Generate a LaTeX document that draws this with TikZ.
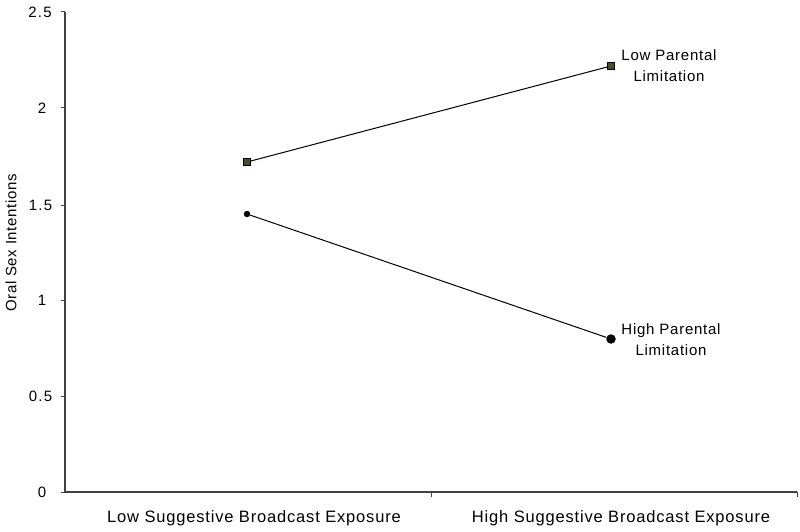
\documentclass[tikz,border=0pt]{standalone}
\usepackage{fontspec}
\setmainfont{Liberation Sans}
\begin{document}
\begin{tikzpicture}[x=1pt,y=-1pt,
  axis/.style={draw=black!75,line width=1.2pt},
  tick/.style={draw=black!75,line width=1pt},
  ticklab/.style={anchor=center,font=\fontsize{15}{17}\selectfont\addfontfeature{LetterSpace=8},inner sep=0pt},
  catlab/.style={font=\fontsize{16.5}{18}\selectfont\addfontfeature{LetterSpace=5},inner sep=0pt},
  serieslab/.style={font=\fontsize{15}{21}\selectfont\addfontfeature{LetterSpace=5},align=center,inner sep=0pt},
  dataline/.style={draw=black,line width=1pt},
  sqmark/.style={draw=black,fill=black!60!olive,minimum size=7pt,inner sep=0pt,line width=0.6pt},
  dotmark/.style={circle,fill=black,inner sep=0pt}]
\useasboundingbox (0,0) rectangle (800,532);
% axes
\coordinate (o) at (65,492);
\coordinate (ytop) at (65,12);
\coordinate (xend) at (797,492);
\draw[axis] (ytop) -- (o) -- (xend);
% y ticks
\foreach \v/\y/\x in {0/492/42,0.5/396/40.5,1/300/42,1.5/205/40.5,2/108/42,2.5/12/40}{
  \draw[tick] (61,\y) -- (65,\y);
  \node[ticklab] (t\y) at (\x,\y) {\v};
}
% x ticks
\draw[tick] (431,492) -- (431,497);
\draw[tick] (797,492) -- (797,497);
\node[catlab] (c1) at (254,518) {Low Suggestive Broadcast Exposure};
\node[catlab] (c2) at (621,518) {High Suggestive Broadcast Exposure};
\node[rotate=90,font=\fontsize{15}{17}\selectfont\addfontfeature{LetterSpace=4},inner sep=0pt] (ylab) at (11,243) {Oral Sex Intentions};
% data
\node[sqmark] (l1) at (247,162) {};
\node[sqmark] (l2) at (611,66) {};
\node[dotmark,minimum size=6.5pt] (h1) at (247,214) {};
\node[dotmark,minimum size=9.5pt] (h2) at (611,339) {};
\draw[dataline] (l1) -- (l2);
\draw[dataline] (h1) -- (h2);
\node[serieslab] (ll) at (669,66) {Low Parental\\Limitation};
\node[serieslab] (hl) at (671,340) {High Parental\\Limitation};
\end{tikzpicture}
\end{document}
